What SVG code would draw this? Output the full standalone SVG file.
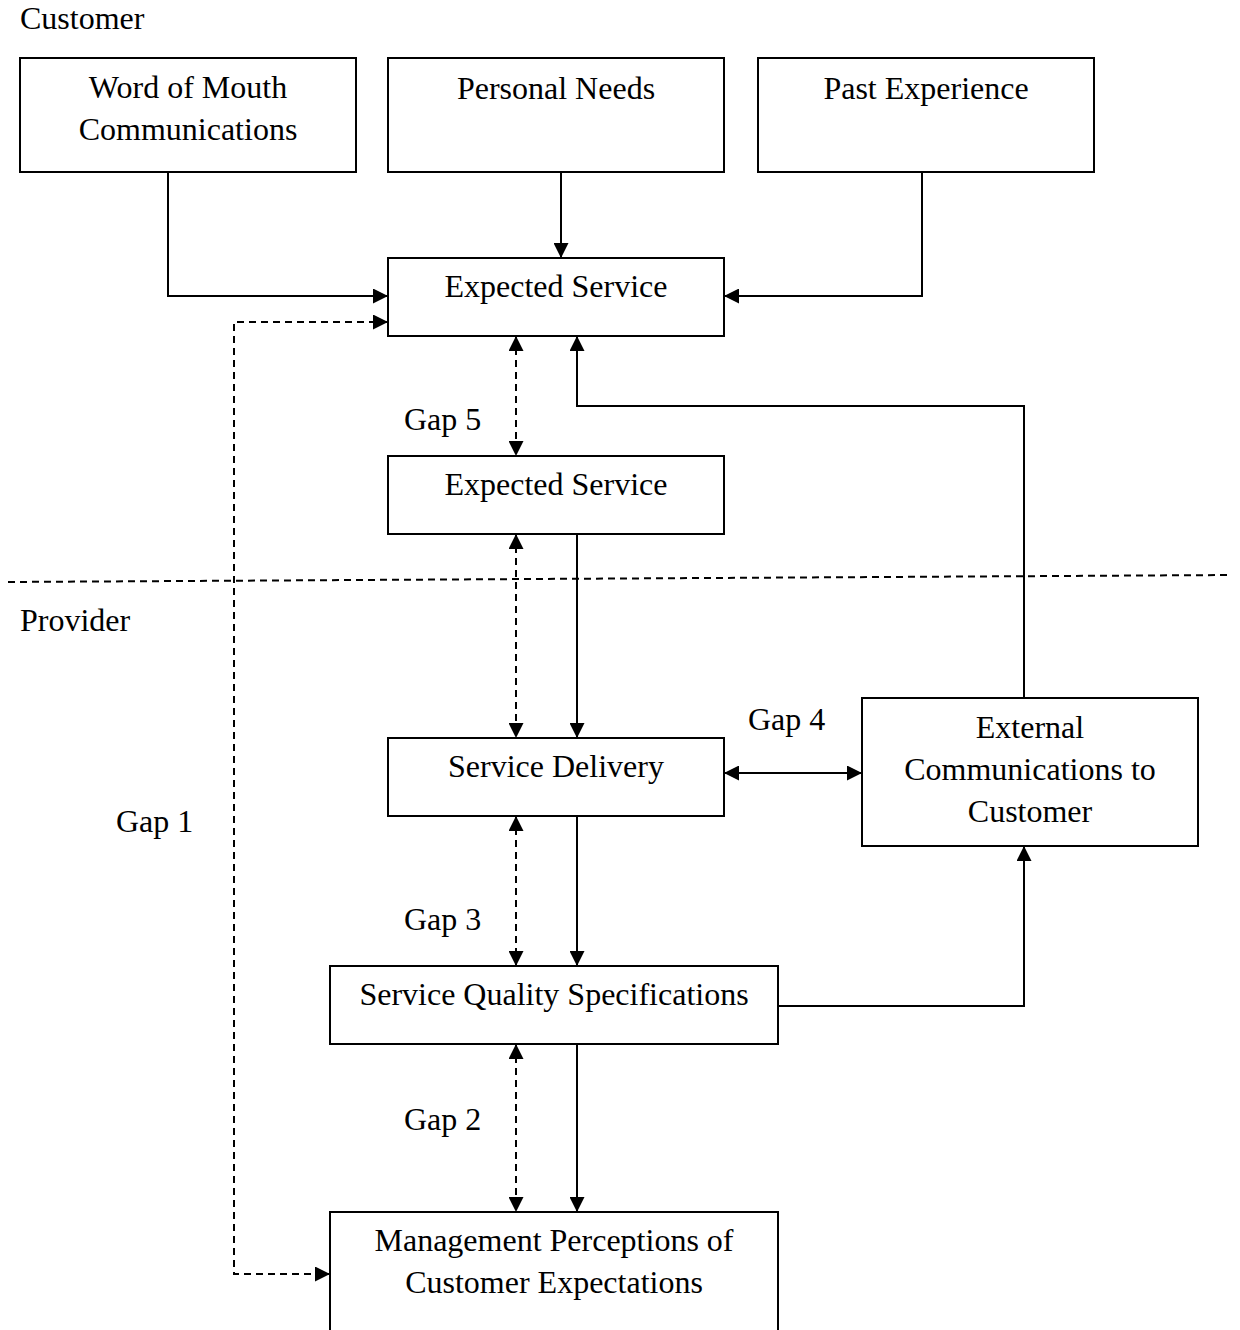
<svg xmlns="http://www.w3.org/2000/svg" width="1240" height="1330" viewBox="0 0 1240 1330">
<defs>
<marker id="ah" viewBox="0 0 15 15" refX="15" refY="7.5" markerWidth="15" markerHeight="15" markerUnits="userSpaceOnUse" orient="auto-start-reverse"><path d="M0,0 L15,7.5 L0,15 Z" fill="#000"/></marker>
<style>
.box{fill:#fff;stroke:#000;stroke-width:2}
.t{font-family:"Liberation Serif","Times New Roman",serif;font-size:32px;fill:#000}
.c{text-anchor:middle}
.ln{fill:none;stroke:#000;stroke-width:2}
.d{stroke-dasharray:7 5}
</style>
</defs>
<rect width="1240" height="1330" fill="#fff"/>
<text class="t" x="20" y="29">Customer</text>
<text class="t" x="20" y="631">Provider</text>
<g id="connectors">
<line class="ln d" x1="8" y1="582" x2="1232" y2="575"/>
<polyline class="ln" points="168,172 168,296 388,296" marker-end="url(#ah)"/>
<line class="ln" x1="561" y1="172" x2="561" y2="258" marker-end="url(#ah)"/>
<polyline class="ln" points="922,172 922,296 724,296" marker-end="url(#ah)"/>
<polyline class="ln d" points="388,322 234,322 234,1274 330,1274" marker-start="url(#ah)" marker-end="url(#ah)"/>
<line class="ln d" x1="516" y1="336" x2="516" y2="456" marker-start="url(#ah)" marker-end="url(#ah)"/>
<polyline class="ln" points="1024,698 1024,406 577,406 577,336" marker-end="url(#ah)"/>
<line class="ln d" x1="516" y1="534" x2="516" y2="738" marker-start="url(#ah)" marker-end="url(#ah)"/>
<line class="ln" x1="577" y1="534" x2="577" y2="738" marker-end="url(#ah)"/>
<line class="ln" x1="724" y1="773" x2="862" y2="773" marker-start="url(#ah)" marker-end="url(#ah)"/>
<line class="ln d" x1="516" y1="816" x2="516" y2="966" marker-start="url(#ah)" marker-end="url(#ah)"/>
<line class="ln" x1="577" y1="816" x2="577" y2="966" marker-end="url(#ah)"/>
<polyline class="ln" points="778,1006 1024,1006 1024,846" marker-end="url(#ah)"/>
<line class="ln d" x1="516" y1="1044" x2="516" y2="1212" marker-start="url(#ah)" marker-end="url(#ah)"/>
<line class="ln" x1="577" y1="1044" x2="577" y2="1212" marker-end="url(#ah)"/>
</g>
<g id="gap-labels">
<text class="t" x="404" y="430">Gap 5</text>
<text class="t" x="748" y="730">Gap 4</text>
<text class="t" x="116" y="832">Gap 1</text>
<text class="t" x="404" y="930">Gap 3</text>
<text class="t" x="404" y="1130">Gap 2</text>
</g>
<g id="word-of-mouth"><rect class="box" x="20" y="58" width="336" height="114"/><text class="t c" x="188" y="98">Word of Mouth</text><text class="t c" x="188" y="140">Communications</text></g>
<g id="personal-needs"><rect class="box" x="388" y="58" width="336" height="114"/><text class="t c" x="556" y="99">Personal Needs</text></g>
<g id="past-experience"><rect class="box" x="758" y="58" width="336" height="114"/><text class="t c" x="926" y="99">Past Experience</text></g>
<g id="expected-service-1"><rect class="box" x="388" y="258" width="336" height="78"/><text class="t c" x="556" y="297">Expected Service</text></g>
<g id="expected-service-2"><rect class="box" x="388" y="456" width="336" height="78"/><text class="t c" x="556" y="495">Expected Service</text></g>
<g id="service-delivery"><rect class="box" x="388" y="738" width="336" height="78"/><text class="t c" x="556" y="777">Service Delivery</text></g>
<g id="external-communications"><rect class="box" x="862" y="698" width="336" height="148"/><text class="t c" x="1030" y="738">External</text><text class="t c" x="1030" y="780">Communications to</text><text class="t c" x="1030" y="822">Customer</text></g>
<g id="service-quality-specifications"><rect class="box" x="330" y="966" width="448" height="78"/><text class="t c" x="554" y="1005">Service Quality Specifications</text></g>
<g id="management-perceptions"><rect class="box" x="330" y="1212" width="448" height="140"/><text class="t c" x="554" y="1251">Management Perceptions of</text><text class="t c" x="554" y="1293">Customer Expectations</text></g>
</svg>
